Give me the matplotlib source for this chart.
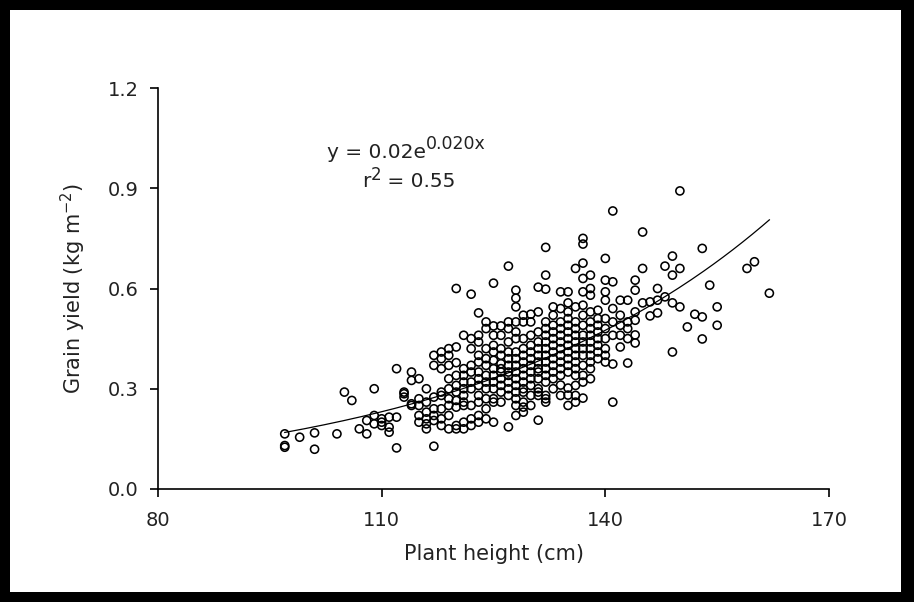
import numpy as np
import matplotlib
matplotlib.use("Agg")
import matplotlib.pyplot as plt
from matplotlib.patches import Rectangle

plt.rcParams['font.family'] = ['DejaVu Sans']
plt.rcParams['mathtext.default'] = 'regular'

# ---- data ----
heights = [97, 99, 101, 104, 105, 106, 107, 108, 109, 110, 111, 112, 113, 114, 115,
           116, 117, 118, 119, 120, 121, 122, 123, 124, 125, 126, 127, 128, 129, 130,
           131, 132, 133, 134, 135, 136, 137, 138, 139, 140, 141, 142, 143, 144, 145,
           146, 147, 148, 149, 150, 151, 152, 153, 154, 155, 159, 160, 162]

yield_columns = [
    [0.165, 0.130, 0.125],
    [0.155],
    [0.168, 0.119],
    [0.165],
    [0.290],
    [0.265],
    [0.180],
    [0.165, 0.205],
    [0.300, 0.220, 0.195],
    [0.210, 0.190, 0.200],
    [0.170, 0.185, 0.215],
    [0.123, 0.215, 0.360],
    [0.290, 0.275, 0.285],
    [0.350, 0.325, 0.250, 0.255],
    [0.330, 0.270, 0.220, 0.200, 0.250],
    [0.300, 0.260, 0.230, 0.210, 0.180, 0.195],
    [0.400, 0.370, 0.275, 0.240, 0.220, 0.205, 0.128],
    [0.410, 0.390, 0.360, 0.290, 0.280, 0.240, 0.210, 0.190],
    [0.420, 0.400, 0.370, 0.330, 0.300, 0.270, 0.250, 0.220, 0.180],
    [0.600, 0.425, 0.378, 0.340, 0.310, 0.290, 0.265, 0.245, 0.190, 0.180],
    [0.460, 0.360, 0.340, 0.320, 0.300, 0.280, 0.260, 0.250, 0.200, 0.180],
    [0.583, 0.450, 0.420, 0.370, 0.350, 0.320, 0.300, 0.250, 0.210, 0.190],
    [0.527, 0.460, 0.440, 0.400, 0.380, 0.350, 0.330, 0.310, 0.280, 0.260, 0.220, 0.200],
    [0.500, 0.480, 0.420, 0.390, 0.370, 0.340, 0.320, 0.300, 0.270, 0.240, 0.210],
    [0.616, 0.488, 0.460, 0.430, 0.410, 0.385, 0.360, 0.340, 0.320, 0.300, 0.270, 0.260, 0.200],
    [0.488, 0.460, 0.420, 0.400, 0.375, 0.360, 0.350, 0.330, 0.310, 0.290, 0.260],
    [0.667, 0.500, 0.480, 0.440, 0.410, 0.390, 0.370, 0.350, 0.340, 0.320, 0.300, 0.280, 0.186],
    [0.595, 0.571, 0.545, 0.500, 0.470, 0.450, 0.410, 0.390, 0.370, 0.350, 0.330, 0.310,
     0.290, 0.270, 0.250, 0.220],
    [0.520, 0.500, 0.450, 0.420, 0.400, 0.380, 0.360, 0.340, 0.320, 0.300, 0.290, 0.260,
     0.245, 0.230],
    [0.523, 0.500, 0.460, 0.430, 0.410, 0.390, 0.370, 0.350, 0.330, 0.310, 0.280, 0.250],
    [0.604, 0.530, 0.470, 0.440, 0.420, 0.400, 0.380, 0.360, 0.350, 0.330, 0.300, 0.280,
     0.290, 0.206],
    [0.723, 0.640, 0.598, 0.500, 0.480, 0.460, 0.440, 0.420, 0.400, 0.380, 0.360, 0.340,
     0.320, 0.280, 0.270, 0.260],
    [0.545, 0.520, 0.490, 0.470, 0.450, 0.430, 0.410, 0.390, 0.370, 0.350, 0.330, 0.300],
    [0.590, 0.540, 0.500, 0.480, 0.460, 0.440, 0.420, 0.400, 0.380, 0.360, 0.340, 0.311, 0.280],
    [0.590, 0.557, 0.530, 0.510, 0.490, 0.470, 0.450, 0.430, 0.410, 0.390, 0.370, 0.350,
     0.302, 0.281, 0.250],
    [0.660, 0.545, 0.500, 0.480, 0.460, 0.440, 0.420, 0.400, 0.380, 0.360, 0.340, 0.310,
     0.280, 0.260],
    [0.750, 0.733, 0.676, 0.630, 0.590, 0.550, 0.520, 0.490, 0.460, 0.440, 0.420, 0.400,
     0.370, 0.340, 0.320, 0.272],
    [0.640, 0.600, 0.580, 0.530, 0.500, 0.480, 0.460, 0.440, 0.420, 0.400, 0.380, 0.360, 0.330],
    [0.535, 0.510, 0.490, 0.470, 0.450, 0.430, 0.410, 0.390],
    [0.690, 0.625, 0.590, 0.565, 0.510, 0.480, 0.450, 0.420, 0.400, 0.380],
    [0.832, 0.620, 0.540, 0.500, 0.460, 0.374, 0.260],
    [0.565, 0.520, 0.490, 0.460, 0.425],
    [0.565, 0.500, 0.480, 0.450, 0.377],
    [0.625, 0.595, 0.530, 0.505, 0.461, 0.437],
    [0.769, 0.660, 0.557],
    [0.518, 0.560],
    [0.600, 0.565, 0.527],
    [0.667, 0.575],
    [0.697, 0.640, 0.557, 0.410],
    [0.892, 0.660, 0.545],
    [0.485],
    [0.523],
    [0.720, 0.515, 0.449],
    [0.610],
    [0.545, 0.490],
    [0.660],
    [0.680],
    [0.586],
]

# fitted exponential trend (as drawn)
fit_a = 0.0165
fit_b = 0.0240

x_ticks = [80, 110, 140, 170]
y_ticks = [0.0, 0.3, 0.6, 0.9, 1.2]
y_tick_labels = ['0.0', '0.3', '0.6', '0.9', '1.2']

# ---- expand columns into points ----
px, py = [], []
for h, col in zip(heights, yield_columns):
    for v in col:
        px.append(h)
        py.append(v)
px = np.array(px, dtype=float)
py = np.array(py, dtype=float)

TXT = '#222222'
W, H = 914, 602
fig = plt.figure(figsize=(W / 100, H / 100), dpi=100, facecolor='black')
fig.patches.append(Rectangle((10 / W, 10 / H), 891 / W, 582 / H,
                             transform=fig.transFigure, facecolor='white',
                             edgecolor='none', zorder=-10))

ax = fig.add_axes([158 / W, (H - 489) / H, 671 / W, 401 / H])
ax.set_zorder(5)
ax.set_facecolor('white')
ax.set_xlim(80, 170)
ax.set_ylim(0, 1.2)
for s in ['top', 'right']:
    ax.spines[s].set_visible(False)
for s in ['left', 'bottom']:
    ax.spines[s].set_linewidth(1.2)
    ax.spines[s].set_color('black')

ax.set_xticks(x_ticks)
ax.set_xticklabels([str(t) for t in x_ticks])
ax.set_yticks(y_ticks)
ax.set_yticklabels(y_tick_labels)
ax.tick_params(axis='both', direction='out', length=6, width=1.2,
               labelsize=14, labelcolor=TXT)
ax.tick_params(axis='y', pad=8)
ax.tick_params(axis='x', pad=10)

ax.scatter(px, py, s=34, facecolors='none', edgecolors='black',
           linewidths=1.15, zorder=3, clip_on=False)

xc = np.linspace(px.min(), px.max(), 200)
ax.plot(xc, fit_a * np.exp(fit_b * xc), color='black', lw=0.9, zorder=4)

# equation with superscripts
t1 = ax.text(102.7, 1.008, 'y = 0.02e', fontsize=14.5, color=TXT,
             ha='left', va='center')
ax.annotate('0.020x', xy=(1.0, 0.47), xycoords=t1, fontsize=12.5, color=TXT,
            ha='left', va='bottom')
t2 = ax.text(107.4, 0.919, 'r', fontsize=14.5, color=TXT, ha='left', va='center')
t3 = ax.annotate('2', xy=(1.0, 0.40), xycoords=t2, fontsize=12, color=TXT,
                 ha='left', va='bottom')
ax.annotate(' = 0.55', xy=(1.0, 0.5), xycoords=(t3, t2), fontsize=14.5, color=TXT,
            ha='left', va='center')

fig.text(494 / W, 1 - 554 / H, 'Plant height (cm)', fontsize=15, color=TXT,
         ha='center', va='center', zorder=6)
fig.text(73 / W, 1 - 288 / H, r'Grain yield (kg m$^{-2}$)', fontsize=15,
         color=TXT, rotation=90, ha='center', va='center', zorder=6)

fig.savefig('out.png', dpi=100, facecolor=fig.get_facecolor())
